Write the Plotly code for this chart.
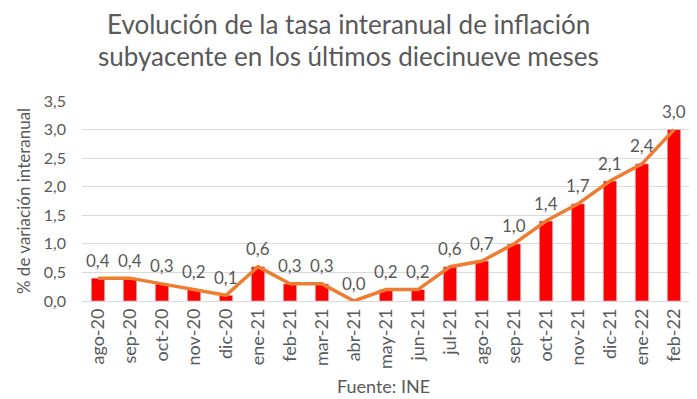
import plotly.graph_objects as go

months = ["ago-20", "sep-20", "oct-20", "nov-20", "dic-20", "ene-21", "feb-21", "mar-21",
          "abr-21", "may-21", "jun-21", "jul-21", "ago-21", "sep-21", "oct-21", "nov-21",
          "dic-21", "ene-22", "feb-22"]
values = [0.4, 0.4, 0.3, 0.2, 0.1, 0.6, 0.3, 0.3, 0.0, 0.2, 0.2, 0.6, 0.7, 1.0, 1.4, 1.7,
          2.1, 2.4, 3.0]
y_ticks = [0, 0.5, 1.0, 1.5, 2.0, 2.5, 3.0, 3.5]
title_lines = ["Evolución de la tasa interanual de inflación",
               "subyacente en los últimos diecinueve meses"]

FONT = "Lato"
GRAY = "#595959"
OFF = 8  # page body margin offset
W, H = 697 - OFF, 399 - OFF
ML, MR, MT, MB = 82 - OFF, 7, 101 - OFF, 98
PW, PH = W - ML - MR, H - MT - MB


def px_x(x):
    return (x - OFF - ML) / PW


def px_y(y):
    return (H - MB - (y - OFF)) / PH


fig = go.Figure()
fig.add_trace(go.Bar(x=months, y=values, marker_color="#FF0000", showlegend=False,
                     hoverinfo="skip"))
fig.add_trace(go.Scatter(x=months, y=values, mode="lines",
                         line=dict(color="#ED7D31", width=3.5),
                         showlegend=False, cliponaxis=False))

annotations = []
for m, v in zip(months, values):
    annotations.append(dict(x=m, y=v, xref="x", yref="y", yshift=18, showarrow=False,
                            text=f"{v:.1f}".replace(".", ","),
                            font=dict(family=FONT, size=17, color=GRAY)))
for i, line in enumerate(title_lines):
    annotations.append(dict(x=px_x(348), y=px_y(24 + 32 * i), xref="paper", yref="paper",
                            showarrow=False, text=line, xanchor="center", yanchor="middle",
                            font=dict(family=FONT, size=26, color=GRAY)))
annotations.append(dict(text="Fuente: INE", x=px_x(383), xref="paper", y=px_y(386),
                        yref="paper", showarrow=False, yanchor="middle",
                        font=dict(family=FONT, size=18, color=GRAY)))

fig.update_layout(
    width=W, height=H,
    margin=dict(l=ML, r=MR, t=MT, b=MB),
    paper_bgcolor="white", plot_bgcolor="white",
    separators=",.",
    bargap=0.58,
    font=dict(family=FONT, color=GRAY),
    xaxis=dict(tickangle=-90, tickfont=dict(family=FONT, size=18, color=GRAY),
               ticklabelstandoff=3,
               showgrid=False, showline=False, ticks="", automargin=False),
    yaxis=dict(range=[0, 3.5], tickvals=y_ticks, tickformat=".1f",
               tickfont=dict(family=FONT, size=16, color=GRAY),
               ticklabelstandoff=15,
               gridcolor="#D9D9D9", gridwidth=1, zeroline=True, zerolinecolor="#D9D9D9",
               zerolinewidth=1, showline=False, ticks="", automargin=False,
               title=dict(text="% de variación interanual", standoff=8,
                          font=dict(family=FONT, size=17, color=GRAY))),
    annotations=annotations,
)

fig.write_html("out.html")
